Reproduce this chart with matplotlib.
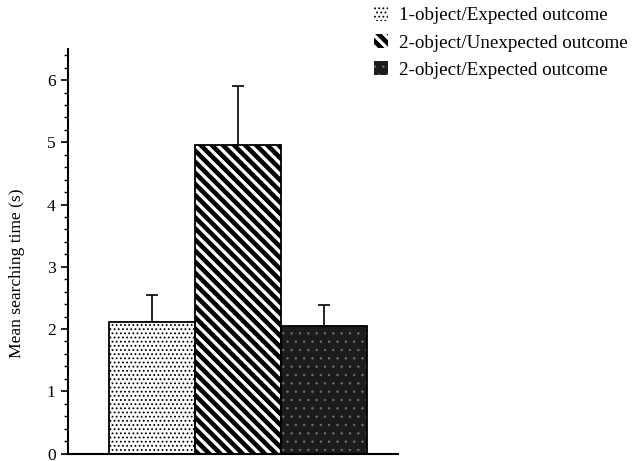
import matplotlib
matplotlib.use("Agg")
import matplotlib.pyplot as plt
from matplotlib.patches import Patch
from matplotlib.ticker import MultipleLocator

# Data
conditions = ["1-object/Expected outcome",
              "2-object/Unexpected outcome",
              "2-object/Expected outcome"]
means = [2.12, 4.95, 2.05]
errors = [0.43, 0.95, 0.33]

y_ticks = [0, 1, 2, 3, 4, 5, 6]

# Styles for each bar: (face colour, hatch, hatch colour, hatch linewidth)
styles = [
    ("white", "....", "black", 0.8),
    ("white", "\\\\\\", "black", 3.3),
    ("#1c1c1c", "..", "#707070", 0.5),
]

DPI = 100
plt.rcParams["font.family"] = ["Liberation Serif", "DejaVu Serif"]
plt.rcParams["font.size"] = 12.6

fig = plt.figure(figsize=(633 / DPI, 461 / DPI), dpi=DPI)
ax = fig.add_axes([67.5 / 633, 1 - 453.5 / 461, 330.5 / 633,
                   (453.5 - 49) / 461])

x = list(range(len(means)))


def hatched_bar(axis, xpos, h, face, hatch, hcolor, hlw):
    plt.rcParams["hatch.linewidth"] = hlw
    fill = axis.bar(xpos, h, width=1.0, color=face, edgecolor=hcolor,
                    hatch=hatch, linewidth=0, zorder=2)
    for p in fill:
        if hasattr(p, "set_hatch_linewidth"):
            p.set_hatch_linewidth(hlw)
    axis.bar(xpos, h, width=1.0, facecolor="none", edgecolor="black",
             linewidth=1.3, zorder=3)


for xi, m, st in zip(x, means, styles):
    hatched_bar(ax, xi, m, *st)

ax.errorbar(x, means, yerr=[[0] * len(errors), errors], fmt="none",
            ecolor="black", elinewidth=1.2, capsize=4.5, capthick=1.2,
            zorder=1)

ax.set_xlim(-0.983, 2.86)
ax.set_ylim(0, 6.5)
ax.set_yticks(y_ticks)
ax.yaxis.set_minor_locator(MultipleLocator(0.2))
ax.set_xticks([])
ax.spines["top"].set_visible(False)
ax.spines["right"].set_visible(False)
ax.spines["left"].set_linewidth(1.5)
ax.spines["bottom"].set_linewidth(1.5)
ax.tick_params(axis="y", which="major", direction="out", length=5, width=1.2,
               pad=3.5)
ax.tick_params(axis="y", which="minor", direction="out", length=3, width=1.0)

fig.text(17 / 633, 1 - 273 / 461, "Mean searching time (s)", rotation=90,
         ha="center", va="center", fontsize=12.6)

# Legend
handles = []
for lab, st in zip(conditions, styles):
    face, hatch, hcolor, hlw = st
    handles.append(Patch(facecolor=face, edgecolor=hcolor, hatch=hatch,
                         linewidth=0, label=lab))

leg = fig.legend(handles=handles, loc="upper left",
                 bbox_to_anchor=(370 / 633, 1 - 3 / 461), frameon=False,
                 borderaxespad=0, handlelength=0.75, handleheight=0.75,
                 handletextpad=0.6, labelspacing=0.5, borderpad=0.2,
                 fontsize=13.7)
for p, st in zip(leg.get_patches(), styles):
    if hasattr(p, "set_hatch_linewidth"):
        p.set_hatch_linewidth(st[3])

fig.savefig("out.png", dpi=DPI)
